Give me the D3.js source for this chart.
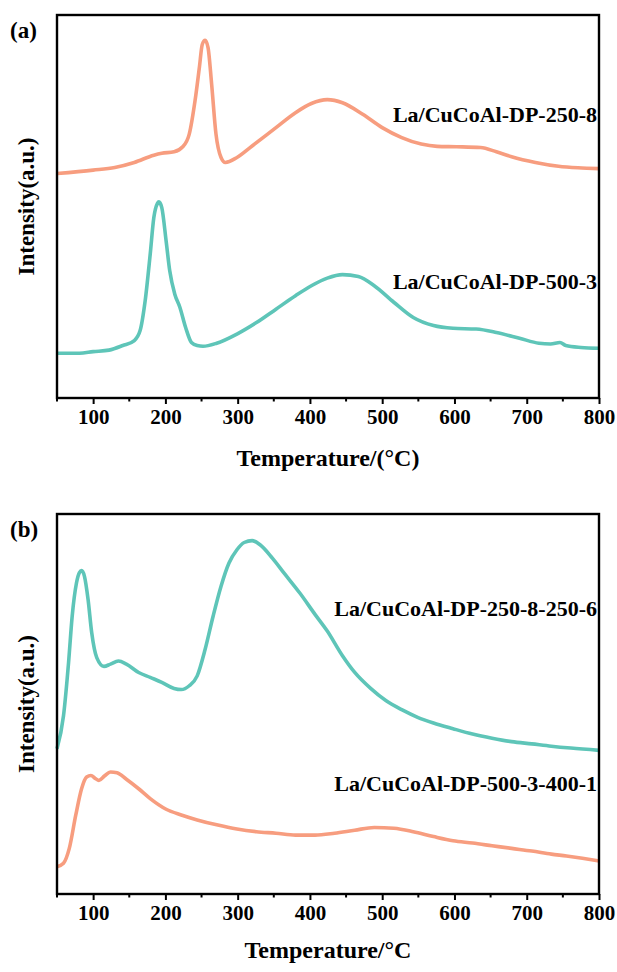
<!DOCTYPE html>
<html>
<head>
<meta charset="utf-8">
<script src="https://cdn.jsdelivr.net/npm/d3@7"></script>
<style>
  body { margin: 0; background: #fff; }
  svg { display: block; }
</style>
</head>
<body>
<svg id="chart" width="617" height="972"></svg>
<script>
// ---- data (intensity in a.u., 0 = frame bottom, 100 = frame top)
const tempA1 = [50, 100, 130, 157, 184, 195, 212, 224, 233, 241, 247, 251, 255, 259, 264, 270, 277, 283, 299, 320, 353, 380, 402, 424, 445, 473, 500, 527, 554, 576, 603, 636, 658, 679, 712, 744, 771, 800]
const intA1 = [58.6, 59.5, 60.2, 61.5, 63.4, 63.9, 64.3, 65.6, 68.9, 77.6, 86.3, 92.3, 93.4, 91.5, 81.9, 68.9, 62.8, 61.5, 62.8, 65.8, 70.6, 74.5, 76.9, 77.9, 77.1, 74.1, 70.6, 68.0, 66.3, 65.7, 65.6, 65.4, 64.3, 63.0, 61.5, 60.5, 60.1, 59.9]

const tempA2 = [50, 81, 100, 122, 141, 157, 165, 172, 179, 184, 189, 191, 195, 201, 206, 213, 220, 228, 236, 244, 252, 271, 299, 326, 353, 380, 402, 424, 445, 467, 489, 516, 543, 571, 598, 630, 658, 690, 717, 733, 746, 754, 775, 800]
const intA2 = [11.7, 11.7, 12.1, 12.5, 13.7, 15.0, 17.6, 25.4, 37.6, 47.1, 50.8, 51.2, 49.7, 41.0, 33.2, 27.1, 23.7, 18.4, 14.5, 13.7, 13.5, 14.3, 16.7, 19.7, 23.2, 26.7, 29.3, 31.3, 32.2, 31.7, 29.3, 25.0, 21.0, 18.9, 18.2, 18.0, 17.1, 15.6, 14.3, 14.1, 14.5, 13.7, 13.2, 13.0]

const tempB1 = [50, 59, 66, 71, 77, 81, 84, 88, 93, 98, 105, 115, 124, 135, 146, 163, 179, 195, 212, 222, 233, 244, 255, 266, 277, 288, 299, 309, 320, 331, 348, 364, 386, 407, 424, 445, 462, 484, 505, 527, 549, 571, 598, 625, 652, 679, 707, 734, 761, 800]
const intB1 = [38.2, 46.9, 60.9, 73.1, 81.9, 84.6, 85.1, 83.6, 77.5, 68.8, 62.2, 59.9, 60.5, 61.3, 60.5, 58.3, 57.0, 55.7, 54.1, 53.8, 54.8, 57.4, 64.4, 73.1, 81.0, 87.1, 90.6, 92.5, 93.0, 91.9, 88.4, 84.5, 79.2, 73.6, 69.2, 62.7, 58.3, 54.1, 50.9, 48.5, 46.5, 45.0, 43.5, 42.1, 41.0, 40.1, 39.5, 38.9, 38.4, 37.8]

const tempB2 = [50, 59, 67, 76, 84, 91, 97, 103, 108, 116, 124, 133, 146, 163, 179, 201, 222, 244, 271, 299, 326, 353, 380, 407, 434, 462, 489, 516, 543, 571, 598, 625, 652, 679, 707, 734, 755, 777, 800]
const intB2 = [7.2, 8.1, 12.0, 20.8, 27.7, 30.8, 31.2, 30.4, 29.9, 31.1, 32.1, 31.9, 30.2, 27.7, 25.1, 22.3, 20.8, 19.5, 18.2, 17.1, 16.4, 16.0, 15.5, 15.5, 16.0, 16.8, 17.5, 17.3, 16.4, 15.1, 14.0, 13.4, 12.7, 12.0, 11.3, 10.5, 10.0, 9.4, 8.7]

const namesA = ['La/CuCoAl-DP-250-8', 'La/CuCoAl-DP-500-3']
const namesB = ['La/CuCoAl-DP-250-8-250-6', 'La/CuCoAl-DP-500-3-400-1']
const majorTicks = [100, 200, 300, 400, 500, 600, 700, 800]
const minorTicks = [50, 150, 250, 350, 450, 550, 650, 750]

const orange = '#f79d7f'
const teal = '#5ec5b8'
const font = '"Liberation Serif", "Times New Roman", serif'

const svg = d3.select('#chart')
const left = 57
const right = 599

const x = d3.scaleLinear().domain([50, 800]).range([left, right])

function zip (t, v) {
  return t.map((d, i) => ({ t: d, v: v[i] }))
}

/**
 * draw one framed panel with its two curves
 */
function drawPanel (p) {
  const y = d3.scaleLinear().domain([0, 100]).range([p.bottom, p.top])
  const g = svg.append('g')

  const line = d3.line()
    .x(d => x(d.t))
    .y(d => y(d.v))
    .curve(d3.curveMonotoneX)

  p.series.forEach(s => {
    g.append('path')
      .datum(zip(s.t, s.v))
      .attr('d', line)
      .attr('fill', 'none')
      .attr('stroke', s.color)
      .attr('stroke-width', 3.6)
      .attr('stroke-linejoin', 'round')
  })

  // frame
  g.append('rect')
    .attr('x', left)
    .attr('y', p.top)
    .attr('width', right - left)
    .attr('height', p.bottom - p.top)
    .attr('fill', 'none')
    .attr('stroke', '#000')
    .attr('stroke-width', 2.4)

  // bottom axis
  const axis = d3.axisBottom(x)
    .tickValues(majorTicks)
    .tickSize(6)
    .tickPadding(5)
  const ax = g.append('g')
    .attr('transform', `translate(0,${p.bottom})`)
    .call(axis)
  ax.select('.domain').remove()
  ax.selectAll('line').attr('stroke-width', 2)
  ax.selectAll('text')
    .attr('font-family', font)
    .attr('font-weight', 'bold')
    .attr('font-size', 21)
    .attr('fill', '#000')

  g.append('g')
    .attr('transform', `translate(0,${p.bottom})`)
    .selectAll('line')
    .data(minorTicks)
    .enter()
    .append('line')
    .attr('x1', d => x(d))
    .attr('x2', d => x(d))
    .attr('y1', 0)
    .attr('y2', 3.5)
    .attr('stroke', '#000')
    .attr('stroke-width', 2)

  // axis titles
  g.append('text')
    .attr('x', (left + right) / 2)
    .attr('y', p.bottom + p.titleDy)
    .attr('text-anchor', 'middle')
    .attr('font-family', font)
    .attr('font-weight', 'bold')
    .attr('font-size', 24)
    .text(p.xTitle)

  g.append('text')
    .attr('transform', `translate(34,${(p.top + p.bottom) / 2}) rotate(-90)`)
    .attr('text-anchor', 'middle')
    .attr('font-family', font)
    .attr('font-weight', 'bold')
    .attr('font-size', 23)
    .text('Intensity(a.u.)')

  g.append('text')
    .attr('x', 10)
    .attr('y', p.top + 23)
    .attr('font-family', font)
    .attr('font-weight', 'bold')
    .attr('font-size', 23)
    .text(p.tag)

  // curve labels
  p.series.forEach(s => {
    g.append('text')
      .attr('x', 597)
      .attr('y', s.labelY)
      .attr('dy', '0.35em')
      .attr('text-anchor', 'end')
      .attr('font-family', font)
      .attr('font-weight', 'bold')
      .attr('font-size', 22)
      .text(s.name)
  })
}

drawPanel({
  top: 15,
  bottom: 398,
  tag: '(a)',
  xTitle: 'Temperature/(°C)',
  titleDy: 68,
  series: [
    { t: tempA1, v: intA1, color: orange, name: namesA[0], labelY: 114 },
    { t: tempA2, v: intA2, color: teal, name: namesA[1], labelY: 281 }
  ]
})

drawPanel({
  top: 514,
  bottom: 894,
  tag: '(b)',
  xTitle: 'Temperature/°C',
  titleDy: 64,
  series: [
    { t: tempB1, v: intB1, color: teal, name: namesB[0], labelY: 608 },
    { t: tempB2, v: intB2, color: orange, name: namesB[1], labelY: 783 }
  ]
})
</script>
</body>
</html>
